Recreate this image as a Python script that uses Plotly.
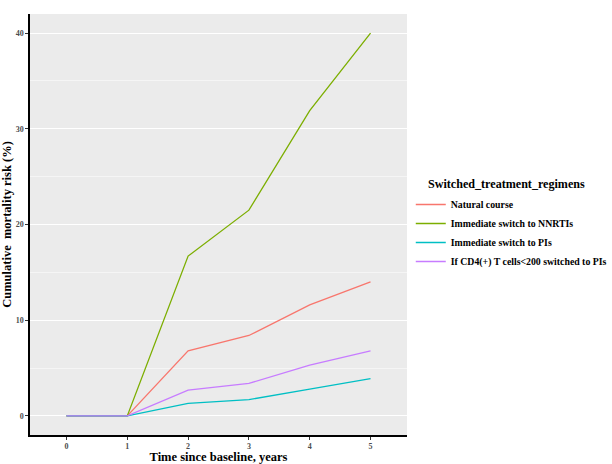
import plotly.graph_objects as go

years = ["0", "1", "2", "3", "4", "5"]
natural_course = [0, 0, 6.8, 8.4, 11.6, 14.0]
switch_nnrti = [0, 0, 16.7, 21.5, 31.9, 40.0]
switch_pi = [0, 0, 1.3, 1.7, 2.8, 3.9]
cd4_switch_pi = [0, 0, 2.7, 3.4, 5.3, 6.8]

series = [
    ("Natural course", natural_course, "#F8766D"),
    ("Immediate switch to NNRTIs", switch_nnrti, "#7CAE00"),
    ("Immediate switch to PIs", switch_pi, "#00BFC4"),
    ("If CD4(+) T cells<200 switched to PIs", cd4_switch_pi, "#C77CFF"),
]

SERIF = "Liberation Serif"

fig = go.Figure()
for name, vals, color in series:
    fig.add_scatter(x=years, y=vals, mode="lines", name=name,
                    line=dict(color=color, width=1.3))

fig.update_layout(
    width=612, height=464,
    margin=dict(l=30, r=205, t=14, b=29, autoexpand=False),
    paper_bgcolor="white",
    plot_bgcolor="#EBEBEB",
    font=dict(family=SERIF, color="black"),
    showlegend=True,
    legend=dict(
        x=1.01, y=0.582, xanchor="left", yanchor="top",
        font=dict(size=9.8, family=SERIF, weight="bold", color="black"),
        bgcolor="rgba(0,0,0,0)",
        tracegroupgap=0,
    ),
    xaxis=dict(
        type="category",
        range=[-0.6, 5.6],
        automargin=False,
        showgrid=False,
        zeroline=False,
        showline=True, linecolor="black", linewidth=1.5,
        ticks="outside", ticklen=3, tickcolor="#333333",
        tickfont=dict(size=8, family=SERIF, weight="bold", color="#4D4D4D"),
        title=dict(text="Time since baseline, years", standoff=0,
                   font=dict(size=12.5, family=SERIF, weight="bold", color="black")),
    ),
    yaxis=dict(
        range=[-2, 42],
        automargin=False,
        tickvals=[0, 10, 20, 30, 40],
        showgrid=True, gridcolor="white", gridwidth=1,
        minor=dict(tickvals=[5, 15, 25, 35], showgrid=True,
                   gridcolor="#F5F5F5", gridwidth=0.6),
        zeroline=False,
        showline=True, linecolor="black", linewidth=1.5,
        ticks="outside", ticklen=3, tickcolor="#333333",
        tickfont=dict(size=8, family=SERIF, weight="bold", color="#4D4D4D"),
        title=dict(text="Cumulative\u00a0 mortality risk (%)", standoff=4,
                   font=dict(size=12.5, family=SERIF, weight="bold", color="black")),
    ),
)

# legend title as an annotation so it lines up with the short legend keys
fig.add_annotation(
    text="Switched_treatment_regimens", xref="paper", yref="paper",
    x=1.0504, y=0.596, xanchor="left", yanchor="middle", showarrow=False,
    font=dict(size=12.1, family=SERIF, weight="bold", color="black"),
)

# drop the browser's default 8px body margin so the figure sits at (0, 0)
fig.write_html("out.html", config={"displayModeBar": False},
               post_script="document.body.style.margin='0';")
